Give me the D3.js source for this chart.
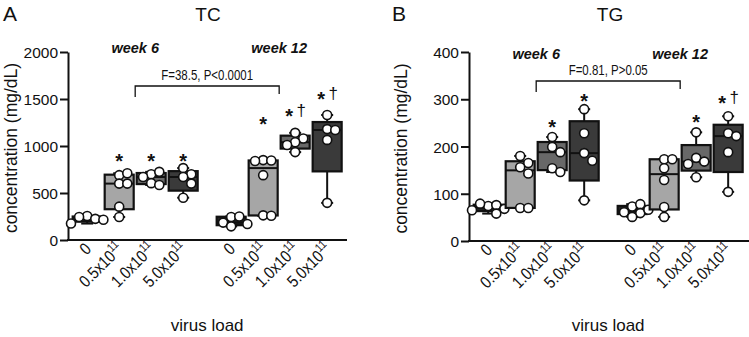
<!DOCTYPE html>
<html>
<head>
<meta charset="utf-8">
<script src="https://cdn.jsdelivr.net/npm/d3@7"></script>
<style>
  body { margin: 0; background: #fff; }
  text, tspan { font-family: "Liberation Sans", Arial, sans-serif; fill: #111; }
</style>
</head>
<body>
<div id="chart"></div>
<script>
// size of the whole figure
const width = 749, height = 337;

// categories
const loadLabels = ["0", "0.5x10", "1.0x10", "5.0x10"];
const loadSup = ["", "11", "11", "11"];
const weekLabels = ["week 6", "week 12"];
const slots = [0, 1, 2, 3, 4.5, 5.5, 6.5, 7.5];
const loadOf = [0, 1, 2, 3, 0, 1, 2, 3];

// TC (mg/dL), one list of animals per box
const tcPoints = [
  [255, 225, 245, 215, 175],
  [690, 710, 600, 600, 355, 245],
  [700, 725, 670, 605, 585],
  [765, 700, 670, 600, 450],
  [245, 250, 185, 170, 145],
  [850, 845, 840, 690, 262, 258],
  [1140, 1080, 1040, 1010, 935],
  [1330, 1180, 1170, 1065, 395]
];
// TG (mg/dL)
const tgPoints = [
  [74, 76, 79, 68, 65, 58],
  [180, 165, 156, 143, 70, 70],
  [220, 199, 188, 154, 146],
  [279, 228, 186, 170, 86],
  [73, 78, 61, 59, 51, 66],
  [173, 173, 154, 129, 72, 51],
  [230, 176, 168, 163, 135],
  [264, 228, 222, 188, 104]
];

const tcTicks = [0, 500, 1000, 1500, 2000];
const tgTicks = [0, 100, 200, 300, 400];

// significance marks: star height (data units) and whether a dagger follows
const tcStarAt = [null, 883, 883, 883, null, 1277, 1362, 1543];
const tcDagger = [false, false, false, false, false, false, true, true];
const tgStarAt = [null, null, 250, 305, null, null, 261, 301];
const tgDagger = [false, false, false, false, false, false, false, true];

const fills = ["#222222", "#a6a6a6", "#686868", "#3a3a3a"];

let svg = d3.select("#chart")
  .append("svg")
    .attr("width", width)
    .attr("height", height);

// GraphPad style quartiles, (n+1)p
function quart(sorted, p) {
  const n = sorted.length;
  let pos = (n + 1) * p;
  if (pos < 1) pos = 1;
  if (pos > n) pos = n;
  const lo = Math.floor(pos), f = pos - lo;
  const a = sorted[lo - 1], b = sorted[Math.min(lo, n - 1)];
  return a + f * (b - a);
}

// spread points sideways where they would overlap
function dodge(vals, y, r) {
  const placed = [];
  const steps = [0, 1, -1, 2, -2, 3, -3];
  return vals.map(v => {
    const py = y(v);
    let off = 0;
    for (const s of steps) {
      const cx = s * r * 1.8;
      if (placed.every(p => Math.hypot(p[0] - cx, p[1] - py) >= r * 1.8)) { off = cx; break; }
    }
    placed.push([off, py]);
    return {v: v, dx: off};
  });
}

function drawPanel(cfg) {
  const g = svg.append("g");
  const y = d3.scaleLinear().domain([0, cfg.max]).range([cfg.y0, cfg.y1]);
  const x = d3.scaleLinear().domain([-0.6, 8.12]).range([cfg.ax, cfg.ax + 279]);
  const bw = 29, r = 4.5;

  // letter and title
  g.append("text").attr("x", cfg.letterX).attr("y", 21)
    .style("font-size", "21px").text(cfg.letter);
  g.append("text").attr("x", cfg.titleX).attr("y", 21)
    .attr("text-anchor", "middle").style("font-size", "19px").text(cfg.title);

  // y axis
  const yAxis = d3.axisLeft(y).tickValues(cfg.ticks).tickFormat(d3.format("d"))
    .tickSize(8).tickSizeOuter(0).tickPadding(2);
  const ya = g.append("g").attr("transform", `translate(${cfg.ax},0)`).call(yAxis);
  ya.select(".domain").attr("stroke", "#111").attr("stroke-width", 2);
  ya.selectAll(".tick line").attr("stroke", "#111").attr("stroke-width", 2);
  ya.selectAll(".tick text").style("font-size", "15.5px").style("font-family", "'Liberation Sans', Arial, sans-serif")
    .attr("fill", "#111").attr("dy", "0.36em");

  g.append("text")
    .attr("transform", `translate(${cfg.labelX},${(cfg.y0 + cfg.y1) / 2 + 2}) rotate(-90)`)
    .attr("text-anchor", "middle").style("font-size", "17.5px")
    .text("concentration (mg/dL)");

  // x axis line
  g.append("line")
    .attr("x1", cfg.ax - 1).attr("x2", cfg.axEnd)
    .attr("y1", cfg.y0).attr("y2", cfg.y0)
    .attr("stroke", "#111").attr("stroke-width", 2);

  // week labels
  g.selectAll(".week").data(weekLabels).join("text")
    .attr("x", (d, i) => x(i === 0 ? 1.5 : 6))
    .attr("y", cfg.weekY)
    .attr("text-anchor", "middle")
    .style("font-size", "14.5px").style("font-style", "italic").style("font-weight", "bold")
    .text(d => d);

  // bracket for the week comparison
  const bx1 = x(1.5), bx2 = x(6);
  g.append("path")
    .attr("d", `M${bx1},${cfg.brY + 11}V${cfg.brY}H${bx2}V${cfg.brY + 8}`)
    .attr("fill", "none").attr("stroke", "#111").attr("stroke-width", 1.3);
  g.append("text")
    .attr("transform", `translate(${(bx1 + bx2) / 2},${cfg.brY - 6}) scale(0.82,1)`)
    .attr("text-anchor", "middle").style("font-size", "14px")
    .text(cfg.stat);

  // boxes
  cfg.points.forEach((pts, i) => {
    const s = pts.slice().sort(d3.ascending);
    const q1 = quart(s, 0.25), med = quart(s, 0.5), q3 = quart(s, 0.75);
    const lo = s[0], hi = s[s.length - 1];
    const cx = x(slots[i]);
    const bg = g.append("g");
    // whiskers with caps
    [[lo, q1], [q3, hi]].forEach(w => {
      bg.append("line").attr("x1", cx).attr("x2", cx)
        .attr("y1", y(w[0])).attr("y2", y(w[1]))
        .attr("stroke", "#111").attr("stroke-width", 2);
    });
    [lo, hi].forEach(v => {
      bg.append("line").attr("x1", cx - 6).attr("x2", cx + 6)
        .attr("y1", y(v)).attr("y2", y(v))
        .attr("stroke", "#111").attr("stroke-width", 2);
    });
    bg.append("rect")
      .attr("x", cx - bw / 2).attr("width", bw)
      .attr("y", y(q3)).attr("height", Math.max(1, y(q1) - y(q3)))
      .attr("fill", fills[loadOf[i]]).attr("stroke", "#111").attr("stroke-width", 2.2);
    bg.append("line").attr("x1", cx - bw / 2).attr("x2", cx + bw / 2)
      .attr("y1", y(med)).attr("y2", y(med))
      .attr("stroke", "#111").attr("stroke-width", 2);
    // individual animals
    bg.selectAll("circle").data(dodge(pts, y, r)).join("circle")
      .attr("cx", d => cx + d.dx).attr("cy", d => y(d.v)).attr("r", r)
      .attr("fill", "#fff").attr("stroke", "#111").attr("stroke-width", 1.6);

    // stars and daggers
    if (cfg.starAt[i] != null) {
      const sy = y(cfg.starAt[i]);
      const dag = cfg.dagger[i];
      g.append("text").attr("x", cx - (dag ? 6 : 0)).attr("y", sy + 11)
        .attr("text-anchor", "middle").style("font-size", "20px").style("font-weight", "bold")
        .text("*");
      if (dag) {
        g.append("text").attr("x", cx + 6).attr("y", sy + 4)
          .attr("text-anchor", "middle").style("font-size", "17px")
          .text("\u2020");
      }
    }

    // rotated category label
    const t = g.append("text")
      .attr("transform", `translate(${cx + 5},${cfg.y0 + 10}) rotate(-45) scale(0.85,1)`)
      .attr("text-anchor", "end")
      .style("font-family", "'Liberation Sans', Arial, sans-serif").style("font-size", "17px");
    t.append("tspan").text(loadLabels[loadOf[i]]);
    if (loadSup[loadOf[i]]) {
      t.append("tspan").attr("dy", -7).style("font-size", "12px").text(loadSup[loadOf[i]]);
    }
  });

  g.append("text")
    .attr("x", x(3.75)).attr("y", 331)
    .attr("text-anchor", "middle").style("font-size", "17px")
    .text("virus load");
}

drawPanel({
  letter: "A", letterX: 3, title: "TC", titleX: 208,
  ax: 68, axEnd: 347, y0: 240, y1: 52, max: 2000, ticks: tcTicks,
  labelX: 17, weekY: 53, brY: 86, stat: "F=38.5, P<0.0001",
  points: tcPoints, starAt: tcStarAt, dagger: tcDagger
});
drawPanel({
  letter: "B", letterX: 392, title: "TG", titleX: 610,
  ax: 469, axEnd: 749, y0: 241, y1: 52, max: 400, ticks: tgTicks,
  labelX: 407, weekY: 59, brY: 81, stat: "F=0.81, P>0.05",
  points: tgPoints, starAt: tgStarAt, dagger: tgDagger
});
</script>
</body>
</html>
